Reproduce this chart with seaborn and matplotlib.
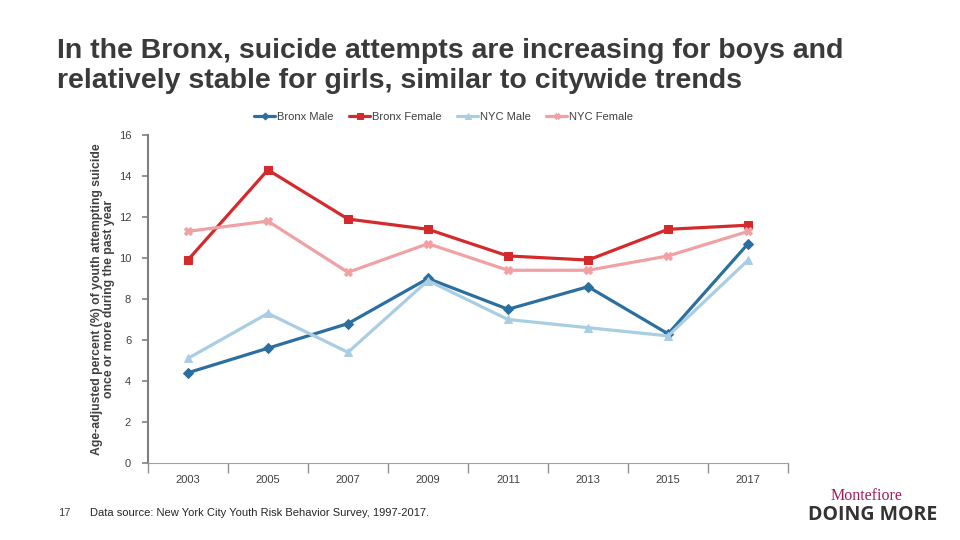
import pandas as pd
import seaborn as sns
import matplotlib.pyplot as plt

years = ['2003', '2005', '2007', '2009', '2011', '2013', '2015', '2017']
bronx_male = [4.4, 5.6, 6.8, 9.0, 7.5, 8.6, 6.3, 10.7]
bronx_female = [9.9, 14.3, 11.9, 11.4, 10.1, 9.9, 11.4, 11.6]
nyc_male = [5.1, 7.3, 5.4, 8.9, 7.0, 6.6, 6.2, 9.9]
nyc_female = [11.3, 11.8, 9.3, 10.7, 9.4, 9.4, 10.1, 11.3]

series = {'Bronx Male': bronx_male, 'Bronx Female': bronx_female,
          'NYC Male': nyc_male, 'NYC Female': nyc_female}
rows = []
for name, vals in series.items():
    for i, v in enumerate(vals):
        rows.append({'pos': i, 'year': years[i], 'value': v, 'series': name})
df = pd.DataFrame(rows)

palette = {'Bronx Male': '#2a6f9f', 'Bronx Female': '#d42a2c',
           'NYC Male': '#a9cde2', 'NYC Female': '#f0a1a4'}
markers = {'Bronx Male': 'D', 'Bronx Female': 's', 'NYC Male': '^', 'NYC Female': 'X'}
sizes = {'Bronx Male': 5, 'Bronx Female': 6, 'NYC Male': 6, 'NYC Female': 6}

sns.set_style("white")
plt.rcParams['font.family'] = ['Liberation Sans', 'DejaVu Sans']

fig = plt.figure(figsize=(9.6, 5.4), dpi=100)
ax = fig.add_axes([0.154, 0.1426, 0.667, 0.6074])

for name in series:
    sns.lineplot(data=df[df['series'] == name], x='pos', y='value', ax=ax,
                 color=palette[name], marker=markers[name], markersize=sizes[name],
                 markeredgecolor=palette[name], linewidth=2.3, label=name)

ax.set_xlim(-0.5, 7.5)
ax.set_ylim(0, 16)
ax.set_yticks(range(0, 17, 2))
ax.set_xticks(range(8))
ax.set_xticklabels(years)
ax.set_xticks([i + 0.5 for i in range(-1, 8)], minor=True)
ax.tick_params(axis='x', which='major', length=0, pad=9, labelsize=8, labelcolor='#404040')
ax.tick_params(axis='x', which='minor', length=7, color='#909090', width=1)
ax.tick_params(axis='y', length=4, color='#808080', width=1.2, labelsize=8,
               labelcolor='#404040', pad=8)
ax.yaxis.set_ticks_position('left')
ax.xaxis.set_ticks_position('bottom')
for s in ['top', 'right']:
    ax.spines[s].set_visible(False)
ax.spines['left'].set_color('#808080')
ax.spines['left'].set_linewidth(1.5)
ax.spines['bottom'].set_color('#a0a0a0')
ax.set_xlabel('')
ax.set_ylabel('Age-adjusted percent (%) of youth attempting suicide\nonce or more during the past year',
              fontsize=8.8, fontweight='bold', color='#404040', labelpad=3, linespacing=1.0)

ax.legend(loc='lower center', bbox_to_anchor=(0.462, 1.01), ncol=4, frameon=False,
          fontsize=8, handlelength=1.9, handletextpad=0.15, columnspacing=1.4,
          markerscale=0.7, labelcolor='#404040')

fig.text(0.059, 0.93, 'In the Bronx, suicide attempts are increasing for boys and\n'
         'relatively stable for girls, similar to citywide trends',
         fontsize=20.5, fontweight='bold', color='#3a3a3a', va='top', linespacing=1.2)

fig.text(0.060, 0.05, '17', fontsize=8, color='#404040', va='center')
fig.text(0.094, 0.05, 'Data source: New York City Youth Risk Behavior Survey, 1997-2017.',
         fontsize=8, color='#262626', va='center')
fig.text(0.940, 0.082, 'Montefiore', fontsize=11.5, color='#a3195b', ha='right',
         va='center', family=['Liberation Serif', 'DejaVu Serif'])
fig.text(0.976, 0.047, 'DOING MORE', fontsize=14, color='#333333', fontweight='bold',
         ha='right', va='center', family=['Open Sans', 'DejaVu Sans'])

fig.savefig('out.png', dpi=100)
